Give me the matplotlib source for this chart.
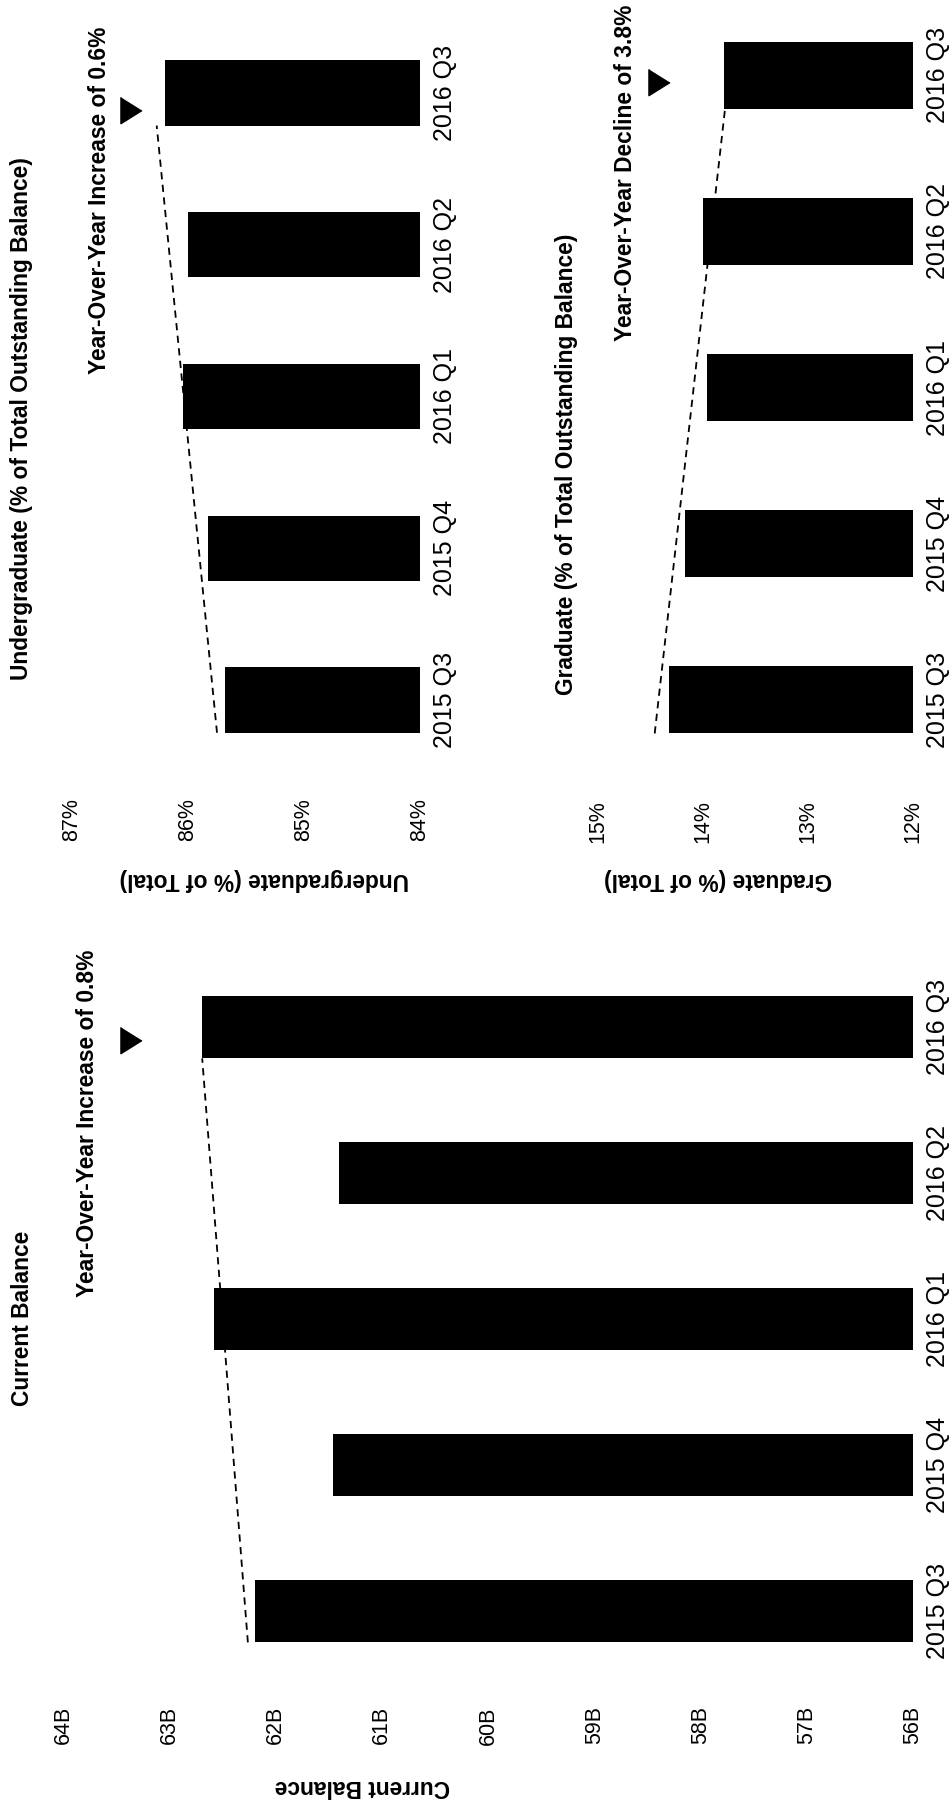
import matplotlib
matplotlib.use("Agg")
import matplotlib.pyplot as plt
import numpy as np

plt.rcParams["font.family"] = ["Liberation Sans", "DejaVu Sans"]

W, H = 952, 1803

quarters = ["2015 Q3", "2015 Q4", "2016 Q1", "2016 Q2", "2016 Q3"]

# current balance, in billions
balance = [62.19, 61.46, 62.58, 61.40, 62.69]
balance_ticks = [64, 63, 62, 61, 60, 59, 58, 57, 56]
balance_trend = [62.26, 62.69]

# share of total outstanding balance, in %
undergrad = [85.68, 85.83, 86.04, 86.00, 86.20]
undergrad_ticks = [87, 86, 85, 84]
undergrad_trend = [85.75, 86.27]

graduate = [14.32, 14.17, 13.96, 14.00, 13.80]
graduate_ticks = [15, 14, 13, 12]
graduate_trend = [14.46, 13.79]

BOLD = dict(fontsize=16.4, fontweight="bold")


def fx(px):
    return px / W


def fy(py):
    return 1 - py / H


fig = plt.figure(figsize=(W / 100, H / 100), dpi=100)


def panel(box, values, ticks, suffix, trend, marker_at, label, label_xy, bar_h=0.43):
    # box is (left, right, top, bottom) in pixels of the page
    x0, x1, y0, y1 = box
    ax = fig.add_axes([fx(x0), fy(y1), (x1 - x0) / W, (y1 - y0) / H])
    pos = np.arange(len(quarters))
    base = ticks[-1]
    ax.barh(pos, [v - base for v in values], left=base, height=bar_h, color="black")
    ax.plot(trend, [pos[0] - bar_h / 2, pos[-1] - bar_h / 2],
            color="black", lw=1.3, ls=(0, (4, 3)))
    ax.plot(*marker_at, marker=[(-0.4, 0.5), (-0.4, -0.5), (0.4, 0)], ms=19, color="black")

    ax.set_xlim(ticks[0], ticks[-1])
    ax.set_ylim(-0.5, len(quarters) - 0.5)
    ax.set_xticks(ticks, [f"{t}{suffix}" for t in ticks])
    ax.set_yticks(pos, quarters)
    ax.tick_params(axis="x", length=0, pad=16, labelsize=15.5, labelrotation=90)
    ax.tick_params(axis="y", length=0, pad=9.5, labelsize=18, labelrotation=90,
                   left=False, labelleft=False, labelright=True)
    plt.setp(ax.get_yticklabels(), va="center")
    for s in ax.spines.values():
        s.set_visible(False)

    ax.set_xlabel(label, rotation=180, va="center", **BOLD)
    ax.xaxis.set_label_coords(fx(label_xy[0]), fy(label_xy[1]), transform=fig.transFigure)
    return ax


panel((63, 913, 954, 1684), balance, balance_ticks, "B", balance_trend,
      (63.36, 3.91), "Current Balance", (362, 1786))
panel((72, 420, 17, 776), undergrad, undergrad_ticks, "%", undergrad_trend,
      (86.49, 3.89), "Undergraduate (% of Total)", (264, 880))
panel((598, 913, -3, 778), graduate, graduate_ticks, "%", graduate_trend,
      (14.42, 3.955), "Graduate (% of Total)", (718, 880))

# titles and year-over-year notes, rotated like the page
fig.text(fx(23), fy(1318), "Current Balance", rotation=90, ha="center", va="center", **BOLD)
fig.text(fx(22), fy(680), "Undergraduate (% of Total Outstanding Balance)",
         rotation=90, ha="center", va="bottom", **BOLD)
fig.text(fx(566), fy(695), "Graduate (% of Total Outstanding Balance)",
         rotation=90, ha="center", va="bottom", **BOLD)

fig.text(fx(88), fy(950), "Year-Over-Year Increase of 0.8%", rotation=90, ha="center", va="top", **BOLD)
fig.text(fx(100), fy(27), "Year-Over-Year Increase of 0.6%", rotation=90, ha="center", va="top", **BOLD)
fig.text(fx(626), fy(5), "Year-Over-Year Decline of 3.8%", rotation=90, ha="center", va="top", **BOLD)

fig.savefig("out.png", dpi=100, facecolor="white")
